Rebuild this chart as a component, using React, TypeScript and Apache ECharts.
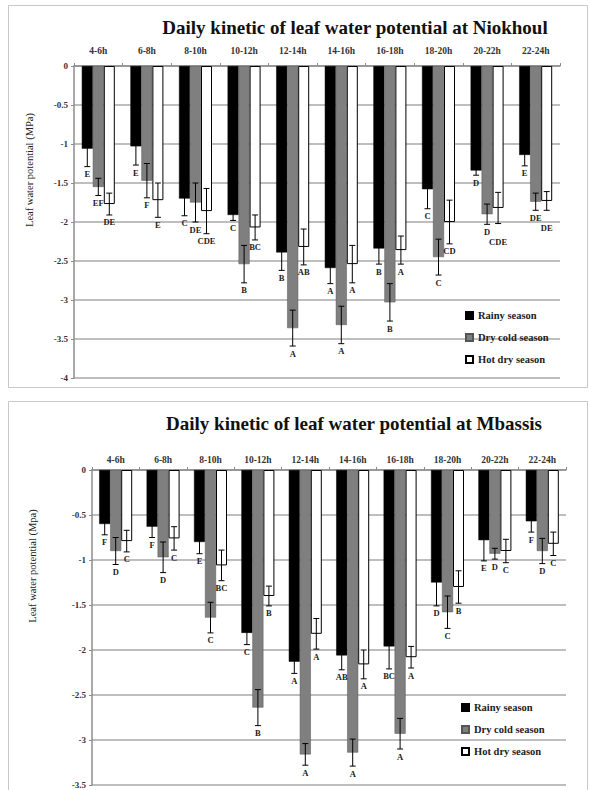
import React, { useEffect, useRef } from "react";
import * as echarts from "echarts";

const categories = ["4-6h", "6-8h", "8-10h", "10-12h", "12-14h", "14-16h", "16-18h", "18-20h", "20-22h", "22-24h"];
const seriesNames = ["Rainy season", "Dry cold season", "Hot dry season"];

// Niokhoul
const rainy1 = [-1.06, -1.03, -1.7, -1.91, -2.39, -2.59, -2.34, -1.58, -1.34, -1.14];
const rainyErr1 = [0.23, 0.24, 0.22, 0.07, 0.23, 0.2, 0.2, 0.25, 0.06, 0.14];
const dry1 = [-1.55, -1.47, -1.75, -2.54, -3.36, -3.32, -3.03, -2.45, -1.9, -1.74];
const dryErr1 = [0.11, 0.22, 0.25, 0.24, 0.23, 0.24, 0.24, 0.23, 0.13, 0.11];
const hot1 = [-1.77, -1.72, -1.86, -2.07, -2.32, -2.54, -2.36, -2.0, -1.82, -1.73];
const hotErr1 = [0.14, 0.22, 0.29, 0.16, 0.23, 0.24, 0.18, 0.28, 0.2, 0.12];
const rainyLab1 = ["E", "E", "C", "C", "B", "A", "B", "C", "D", "E"];
const dryLab1 = ["EF", "F", "DE", "B", "A", "A", "B", "C", "D", "DE"];
const hotLab1 = ["DE", "E", "CDE", "BC", "AB", "A", "A", "CD", "CDE", "DE"];

// Mbassis
const rainy2 = [-0.6, -0.63, -0.8, -1.81, -2.13, -2.06, -1.96, -1.25, -0.78, -0.57];
const rainyErr2 = [0.12, 0.12, 0.13, 0.13, 0.13, 0.16, 0.25, 0.26, 0.23, 0.12];
const dry2 = [-0.9, -0.97, -1.64, -2.64, -3.16, -3.14, -2.93, -1.58, -0.93, -0.9];
const dryErr2 = [0.15, 0.17, 0.17, 0.2, 0.12, 0.15, 0.17, 0.18, 0.06, 0.14];
const hot2 = [-0.79, -0.76, -1.06, -1.4, -1.82, -2.16, -2.08, -1.3, -0.9, -0.82];
const hotErr2 = [0.12, 0.13, 0.17, 0.11, 0.17, 0.16, 0.12, 0.18, 0.13, 0.13];
const rainyLab2 = ["F", "F", "E", "C", "A", "AB", "BC", "D", "E", "F"];
const dryLab2 = ["D", "D", "C", "B", "A", "A", "A", "C", "D", "D"];
const hotLab2 = ["C", "C", "BC", "B", "A", "A", "A", "B", "C", "C"];

const SERIF = "'Liberation Serif', 'DejaVu Serif', serif";
const BAR_W = 11;
const barStyles = [
  { color: "#000000", borderColor: "#000000", borderWidth: 0.5 },
  { color: "#7f7f7f", borderColor: "#555555", borderWidth: 0.5 },
  { color: "#ffffff", borderColor: "#000000", borderWidth: 1 },
];

function barSeries(g: number, vals: number[][]) {
  return vals.map((v, k) => ({
    type: "bar",
    name: seriesNames[k],
    xAxisIndex: g,
    yAxisIndex: g,
    data: v,
    barWidth: BAR_W,
    barGap: "0%",
    itemStyle: barStyles[k],
    silent: true,
  }));
}

// one custom series per chart: error bars and letter labels for the three seasons
function errSeries(g: number, vals: number[][], errs: number[][], labs: string[][]) {
  return {
    type: "custom",
    xAxisIndex: g,
    yAxisIndex: g,
    z: 10,
    silent: true,
    data: categories.map((_, i) => [i, vals[0][i], errs[0][i], vals[1][i], errs[1][i], vals[2][i], errs[2][i]]),
    renderItem: (params: any, api: any) => {
      const i = api.value(0);
      const children: any[] = [];
      const placed: { x0: number; x1: number; y0: number; y1: number }[] = [];
      const st = { stroke: "#000", lineWidth: 1 };
      for (let k = 0; k < 3; k++) {
        const v = api.value(1 + 2 * k);
        const e = api.value(2 + 2 * k);
        const top = api.coord([i, v + e]);
        const bot = api.coord([i, v - e]);
        const x = top[0] + (k - 1) * BAR_W;
        children.push(
          { type: "line", shape: { x1: x, y1: top[1], x2: x, y2: bot[1] }, style: st },
          { type: "line", shape: { x1: x - 3, y1: top[1], x2: x + 3, y2: top[1] }, style: st },
          { type: "line", shape: { x1: x - 3, y1: bot[1], x2: x + 3, y2: bot[1] }, style: st }
        );
        const text = labs[k][params.dataIndex];
        const w = text.length * 5.6;
        const h = 9;
        let y = bot[1] + 3;
        let moved = true;
        while (moved) {
          moved = false;
          for (const r of placed) {
            if (x - w / 2 < r.x1 && x + w / 2 > r.x0 && y < r.y1 && y + h > r.y0) {
              y = r.y1 + 1;
              moved = true;
            }
          }
        }
        placed.push({ x0: x - w / 2, x1: x + w / 2, y0: y, y1: y + h });
        children.push({
          type: "text",
          style: {
            text,
            x,
            y,
            align: "center",
            verticalAlign: "top",
            fill: "#222",
            fontFamily: SERIF,
            fontWeight: "bold",
            fontSize: 8.5,
          },
        });
      }
      return { type: "group", children };
    },
  };
}

export default function App() {
  const ref = useRef<HTMLDivElement>(null);
  useEffect(() => {
    if (!ref.current) return;
    const chart = echarts.init(ref.current, null, { renderer: "svg" });
    const xAxisBase = (g: number, margin: number) => ({
      type: "category",
      gridIndex: g,
      data: categories,
      position: "top",
      axisLine: { show: true, lineStyle: { color: "#8c8c8c", width: 1.5 } },
      axisTick: { show: true, length: 3, lineStyle: { color: "#8c8c8c" } },
      axisLabel: { color: "#333", fontFamily: SERIF, fontWeight: "bold", fontSize: 9.5, margin },
    });
    const yAxisBase = (g: number, min: number) => ({
      type: "value",
      gridIndex: g,
      min,
      max: 0,
      interval: 0.5,
      axisLine: { show: true, lineStyle: { color: "#8c8c8c", width: 1.5 } },
      axisTick: { show: true, length: 3, lineStyle: { color: "#8c8c8c" } },
      axisLabel: { color: "#333", fontFamily: SERIF, fontWeight: "bold", fontSize: 9, margin: 6 },
      splitLine: { show: true, lineStyle: { color: "#a8a8a8", width: 1.5 } },
    });
    const legendBase = (top: number, left: number) => ({
      orient: "vertical",
      left,
      top,
      itemWidth: 7,
      itemHeight: 7,
      itemGap: 11,
      icon: "rect",
      selectedMode: false,
      data: seriesNames,
      textStyle: { fontFamily: SERIF, fontWeight: "bold", fontSize: 10.5, color: "#222" },
    });
    chart.setOption({
      animation: false,
      backgroundColor: "#ffffff",
      grid: [
        { left: 74, right: 30, top: 66, height: 312 },
        { left: 92, right: 24, top: 470, height: 315 },
      ],
      xAxis: [xAxisBase(0, 10), xAxisBase(1, 5)],
      yAxis: [yAxisBase(0, -4), yAxisBase(1, -3.5)],
      legend: [legendBase(305, 460), legendBase(697, 456)],
      graphic: [
        { type: "rect", shape: { x: 8.5, y: 5.5, width: 579, height: 382 }, style: { fill: "none", stroke: "#c8c8c8", lineWidth: 1 }, z: -1 },
        { type: "rect", shape: { x: 8.5, y: 401.5, width: 579, height: 400 }, style: { fill: "none", stroke: "#c8c8c8", lineWidth: 1 }, z: -1 },
        { type: "text", x: 355, y: 27, style: { text: "Daily kinetic of leaf water potential at Niokhoul", align: "center", verticalAlign: "middle", fontFamily: SERIF, fontWeight: "bold", fontSize: 19, fill: "#111" } },
        { type: "text", x: 354, y: 423, style: { text: "Daily kinetic of leaf water potential at Mbassis", align: "center", verticalAlign: "middle", fontFamily: SERIF, fontWeight: "bold", fontSize: 19, fill: "#111" } },
        { type: "text", x: 29, y: 170, rotation: Math.PI / 2, style: { text: "Leaf water potential (MPa)", align: "center", verticalAlign: "middle", fontFamily: SERIF, fontSize: 10.5, fill: "#222" } },
        { type: "text", x: 32, y: 566, rotation: Math.PI / 2, style: { text: "Leaf water potential (Mpa)", align: "center", verticalAlign: "middle", fontFamily: SERIF, fontSize: 10.5, fill: "#222" } },
      ],
      series: [
        ...barSeries(0, [rainy1, dry1, hot1]),
        errSeries(0, [rainy1, dry1, hot1], [rainyErr1, dryErr1, hotErr1], [rainyLab1, dryLab1, hotLab1]),
        ...barSeries(1, [rainy2, dry2, hot2]),
        errSeries(1, [rainy2, dry2, hot2], [rainyErr2, dryErr2, hotErr2], [rainyLab2, dryLab2, hotLab2]),
      ],
    });
    return () => chart.dispose();
  }, []);
  return <div ref={ref} style={{ position: "absolute", left: 0, top: 0, width: 590, height: 790 }} />;
}
